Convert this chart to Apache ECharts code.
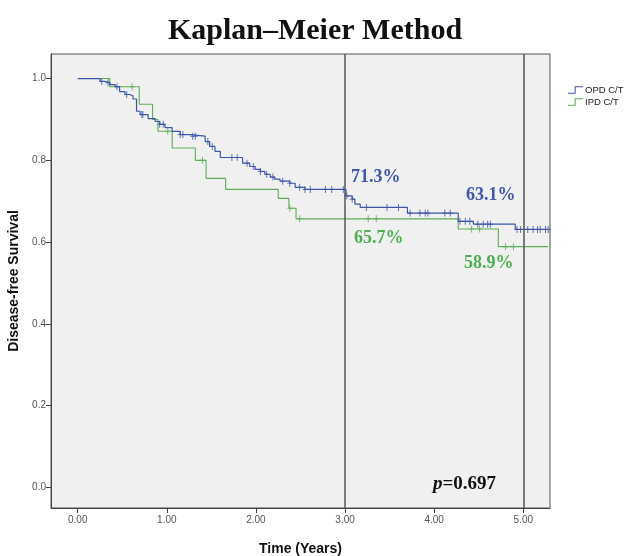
<!DOCTYPE html>
<html>
<head>
<meta charset="utf-8">
<script src="https://cdn.jsdelivr.net/npm/echarts@6/dist/echarts.min.js"></script>
<style>html,body{margin:0;padding:0;background:#fff;}#c{width:630px;height:556px;}</style>
</head>
<body>
<div id="c"></div>
<script>
// ---- data ----
const seriesNames = ['OPD C/T', 'IPD C/T'];
// OPD C/T : event times (years) and survival after each step
const opdTime = [0, 0.25, 0.30, 0.36, 0.42, 0.47, 0.53, 0.58, 0.62, 0.66, 0.70, 0.79, 0.87, 0.92, 0.98, 1.06, 1.15, 1.26, 1.43, 1.48, 1.54, 1.60, 1.85, 1.93, 1.99, 2.05, 2.10, 2.16, 2.21, 2.27, 2.38, 2.44, 2.55, 3.01, 3.08, 3.11, 3.17, 3.70, 4.27, 4.44, 4.91, 5.28];
const opdSurv = [1.000, 0.993, 0.990, 0.985, 0.980, 0.968, 0.961, 0.958, 0.950, 0.920, 0.912, 0.902, 0.895, 0.888, 0.880, 0.871, 0.863, 0.859, 0.846, 0.834, 0.822, 0.807, 0.793, 0.785, 0.778, 0.773, 0.766, 0.759, 0.754, 0.749, 0.744, 0.734, 0.729, 0.713, 0.705, 0.693, 0.685, 0.671, 0.651, 0.644, 0.631, 0.631];
const opdCensor = [0.27, 0.34, 0.44, 0.55, 0.72, 0.73, 0.92, 0.96, 1.15, 1.18, 1.29, 1.32, 1.46, 1.51, 1.73, 1.79, 1.90, 1.97, 2.05, 2.12, 2.19, 2.30, 2.38, 2.49, 2.55, 2.61, 2.78, 2.85, 2.98, 3.02, 3.08, 3.24, 3.47, 3.60, 3.73, 3.84, 3.90, 3.93, 4.12, 4.18, 4.29, 4.35, 4.40, 4.49, 4.55, 4.60, 4.63, 4.93, 4.97, 5.05, 5.11, 5.16, 5.19, 5.25, 5.28];
// IPD C/T
const ipdTime = [0, 0.36, 0.69, 0.84, 0.90, 1.06, 1.32, 1.44, 1.66, 2.25, 2.37, 2.45, 4.27, 4.72, 5.28];
const ipdSurv = [1.000, 0.980, 0.937, 0.900, 0.871, 0.830, 0.800, 0.756, 0.729, 0.707, 0.683, 0.657, 0.632, 0.589, 0.589];
const ipdCensor = [0.61, 1.01, 1.40, 2.38, 2.49, 3.26, 3.35, 4.42, 4.51, 4.80, 4.89];
// tick labels
const xTicks = [0, 1, 2, 3, 4, 5];
const yTicks = [0, 0.2, 0.4, 0.6, 0.8, 1.0];
const refLines = [3, 5];
const annotations = ['71.3%', '65.7%', '63.1%', '58.9%'];
const pValue = '0.697';

// ---- build ----
const BLUE = '#3c55a5', GREEN = '#5cad55';
function pairs(t, s) { return t.map((v, i) => [v, s[i]]); }
function survAt(t, s, x) { let v = s[0]; for (let i = 0; i < t.length; i++) { if (t[i] <= x) v = s[i]; } return v; }
const plusPath = 'path://M2,0 L3,0 L3,3 L5,3 L5,4 L3,4 L3,7 L2,7 L2,4 L0,4 L0,3 L2,3 Z';
const stepIcon = 'path://M0,8 L8,8 L8,0 L18,0 L18,1.2 L9.2,1.2 L9.2,9.2 L0,9.2 Z';

const chart = echarts.init(document.getElementById('c'), null, { renderer: 'canvas' });
const option = {
  backgroundColor: '#ffffff',
  animation: false,
  title: {
    text: 'Kaplan–Meier Method', left: 'center', top: 11,
    textStyle: { fontFamily: 'Liberation Serif', fontWeight: 'bold', fontSize: 30, color: '#111' }
  },
  legend: {
    data: [{ name: seriesNames[0], icon: stepIcon }, { name: seriesNames[1], icon: stepIcon }],
    orient: 'vertical', left: 563, top: 80, itemWidth: 15, itemHeight: 8, itemGap: 2,
    textStyle: { fontFamily: 'Liberation Sans', fontSize: 9.5, color: '#222', padding: [0, 0, 0, -3] }
  },
  grid: {
    left: 51, right: 80, top: 54, bottom: 48, show: true, outerBoundsMode: 'none', containLabel: false,
    backgroundColor: '#f0f0f0', borderColor: '#555', borderWidth: 1
  },
  xAxis: {
    type: 'value', min: -0.3, max: 5.3,
    name: 'Time (Years)', nameLocation: 'middle', nameGap: 34,
    nameTextStyle: { fontFamily: 'Liberation Sans', fontWeight: 'bold', fontSize: 14, color: '#111' },
    axisLine: { show: true, onZero: false, lineStyle: { color: '#444' } },
    axisTick: { show: true, customValues: xTicks, length: 5, lineStyle: { color: '#444' } },
    axisLabel: { customValues: xTicks, formatter: v => v.toFixed(2), fontFamily: 'Liberation Sans', fontSize: 10, color: '#555', margin: 7 },
    splitLine: { show: false }
  },
  yAxis: {
    type: 'value', min: -0.05, max: 1.06,
    name: 'Disease-free Survival', nameLocation: 'middle', nameGap: 28,
    nameTextStyle: { fontFamily: 'Liberation Sans', fontWeight: 'bold', fontSize: 14, color: '#111' },
    axisLine: { show: true, onZero: false, lineStyle: { color: '#444' } },
    axisTick: { show: true, customValues: yTicks, length: 5, lineStyle: { color: '#444' } },
    axisLabel: { customValues: yTicks, formatter: v => v.toFixed(1), fontFamily: 'Liberation Sans', fontSize: 10, color: '#555', margin: 5 },
    splitLine: { show: false }
  },
  series: [
    {
      name: seriesNames[0], type: 'line', step: 'end', data: pairs(opdTime, opdSurv),
      showSymbol: false, color: BLUE, lineStyle: { color: BLUE, width: 1.2 }, z: 4,
      markLine: {
        silent: true, symbol: 'none', label: { show: false },
        lineStyle: { color: '#555', width: 1.5, type: 'solid' },
        data: refLines.map(v => ({ xAxis: v }))
      }
    },
    {
      name: seriesNames[1], type: 'line', step: 'end', data: pairs(ipdTime, ipdSurv),
      showSymbol: false, color: GREEN, lineStyle: { color: GREEN, width: 1.1 }, z: 3
    },
    {
      name: 'opdCensor', type: 'scatter', data: opdCensor.map(t => [t, survAt(opdTime, opdSurv, t)]),
      symbol: plusPath, symbolSize: [5, 7], itemStyle: { color: BLUE }, z: 5
    },
    {
      name: 'ipdCensor', type: 'scatter', data: ipdCensor.map(t => [t, survAt(ipdTime, ipdSurv, t)]),
      symbol: plusPath, symbolSize: [5, 7], itemStyle: { color: GREEN }, z: 4
    }
  ],
  graphic: [
    { type: 'text', left: 351, top: 168, style: { text: annotations[0], font: 'bold 18px "Liberation Serif"', fill: '#4158a8' } },
    { type: 'text', left: 354, top: 229, style: { text: annotations[1], font: 'bold 18px "Liberation Serif"', fill: '#4fae52' } },
    { type: 'text', left: 466, top: 186, style: { text: annotations[2], font: 'bold 18px "Liberation Serif"', fill: '#4158a8' } },
    { type: 'text', left: 464, top: 254, style: { text: annotations[3], font: 'bold 18px "Liberation Serif"', fill: '#4fae52' } },
    { type: 'text', left: 433, top: 475, style: {
        text: '{i|p}{n|=' + pValue + '}',
        rich: {
          i: { fontFamily: 'Liberation Serif', fontStyle: 'italic', fontWeight: 'bold', fontSize: 19, fill: '#111' },
          n: { fontFamily: 'Liberation Serif', fontWeight: 'bold', fontSize: 19, fill: '#111' }
        } } }
  ]
};
chart.setOption(option);
</script>
</body>
</html>
